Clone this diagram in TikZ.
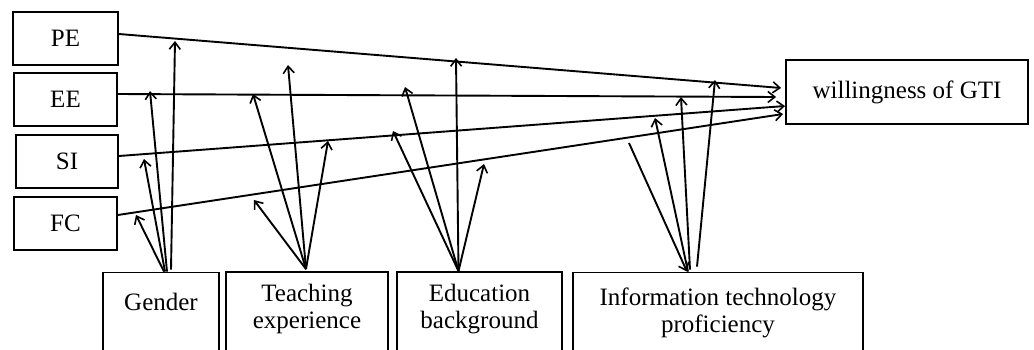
\documentclass[tikz,border=0pt]{standalone}
\usepackage{fontspec}
\setmainfont{Liberation Serif}
\usetikzlibrary{arrows.meta}
\begin{document}
\begin{tikzpicture}[x=1pt,y=-1pt,
  box/.style={draw, line width=1.8pt, inner sep=0pt, align=center,
    font=\fontsize{25pt}{27pt}\selectfont},
  arr/.style={line width=1.9pt, -{Straight Barb[length=7pt,width=11pt,line width=1.6pt]}}]
\useasboundingbox (0,0) rectangle (1034,349);
% left boxes
\node[box, minimum width=105, minimum height=53] (PE) at (65.5,38.5) {PE};
\node[box, minimum width=103, minimum height=53] (EE) at (65.5,99.5) {EE};
\node[box, minimum width=102, minimum height=53] (SI) at (67,161.5) {SI};
\node[box, minimum width=103, minimum height=53] (FC) at (65.5,223.5) {FC};
% outcome
\node[box, minimum width=242, minimum height=64] (GTI) at (907,92) {willingness of GTI};
% moderators
\node[box, minimum width=116, minimum height=80, text depth=21pt] (gender) at (161,312.5) {Gender};
\node[box, minimum width=162, minimum height=80, text depth=12pt] (teach) at (307,312) {Teaching\\experience};
\node[box, minimum width=165, minimum height=80, text depth=12pt] (edu) at (479.5,312) {Education\\background};
\node[box, minimum width=290, minimum height=80] (info) at (718,312.5) {Information technology\\proficiency};
% main paths
\draw[arr] ([yshift=4.5pt]PE.east) -- ([xshift=-4pt,yshift=4pt]GTI.west);
\draw[arr] ([yshift=5.5pt]EE.east) -- ([xshift=-9pt,yshift=-5pt]GTI.west);
\draw[arr] ([yshift=5.5pt]SI.east) -- ([xshift=0pt,yshift=-14pt]GTI.west);
\draw[arr] ([yshift=8.5pt]FC.east) -- ([xshift=-2pt,yshift=-22pt]GTI.west);
% moderator tips
\coordinate (g1) at (175,41);
\coordinate (g2) at (150,91);
\coordinate (g3) at (144,159);
\coordinate (g4) at (136,215);
\coordinate (t1) at (288,65);
\coordinate (t2) at (253,94);
\coordinate (t3) at (328,141);
\coordinate (t4) at (254,200);
\coordinate (e1) at (456,58);
\coordinate (e2) at (405,87);
\coordinate (e3) at (393,131);
\coordinate (e4) at (484,164);
\coordinate (i1) at (715,80);
\coordinate (i2) at (681,97);
\coordinate (i3) at (655,118);
\coordinate (i4) at (629,143);
% gender
\draw[arr] ([xshift=10pt,yshift=2pt]gender.north) -- (g1);
\draw[arr] ([xshift=6pt]gender.north) -- (g2);
\draw[arr] ([xshift=4pt]gender.north) -- (g3);
\draw[arr] ([xshift=3pt]gender.north) -- (g4);
% teaching
\draw[arr] ([xshift=-1pt,yshift=2pt]teach.north) -- (t1);
\draw[arr] ([xshift=-1pt,yshift=2pt]teach.north) -- (t2);
\draw[arr] ([xshift=-1pt,yshift=2pt]teach.north) -- (t3);
\draw[arr] ([xshift=-1pt,yshift=2pt]teach.north) -- (t4);
% education
\draw[arr] ([xshift=-21pt]edu.north) -- (e1);
\draw[arr] ([xshift=-21pt]edu.north) -- (e2);
\draw[arr] ([xshift=-21pt]edu.north) -- (e3);
\draw[arr] ([xshift=-21pt]edu.north) -- (e4);
% information technology
\draw[arr] ([xshift=-21pt,yshift=5pt]info.north) -- (i1);
\draw[arr] ([xshift=-28pt,yshift=2pt]info.north) -- (i2);
\draw[arr] ([xshift=-30pt]info.north) -- (i3);
\draw[arr] (i4) -- ([xshift=-31pt]info.north);
\end{tikzpicture}
\end{document}
